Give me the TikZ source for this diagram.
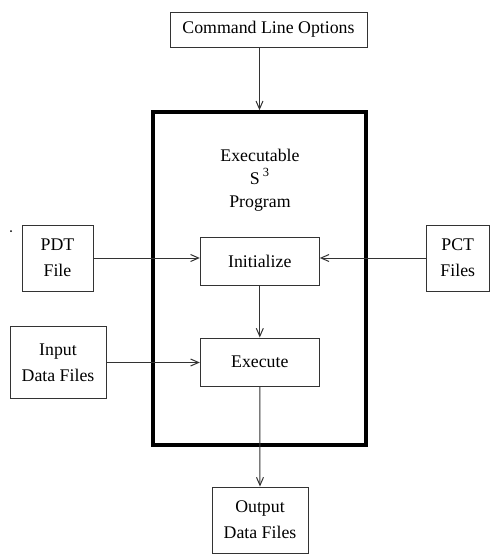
\documentclass[tikz,border=0pt]{standalone}
\usepackage{fontspec}
\setmainfont{Liberation Serif}
\usetikzlibrary{arrows.meta}
\tikzset{
    unit/.style={draw=black!80, line width=0.5pt, inner sep=0pt, align=center,
        font=\fontsize{8.9}{13}\selectfont},
    flow/.style={draw=black!80, line width=0.5pt, -{Straight Barb[length=4pt,width=3.5pt]}}
}

\begin{document}
\begin{tikzpicture}[x=0.5pt,y=-0.5pt]
\useasboundingbox (0,0) rectangle (490,558);
% executable program
\node[draw, line width=1.8pt, minimum width=106.5pt, minimum height=166.5pt] (prog) at (259.5,278.5) {};
\node[align=center, inner sep=0pt, font=\fontsize{8.9}{11.5}\selectfont] (title) at (260,180) {Executable\\S\,\textsuperscript{3}\\Program};
\node[unit, minimum width=59.5pt, minimum height=23.8pt] (init) at (259.8,261.5) {Initialize};
\node[unit, minimum width=59.5pt, minimum height=24pt] (exec) at (259.8,362) {Execute};
% inputs and outputs
\node[unit, minimum width=98.5pt, minimum height=17.5pt] (opts) at (268.5,29.5) {Command Line Options};
\node[unit, minimum width=35.5pt, minimum height=33pt] (pdt) at (57.5,258) {PDT\\File};
\node[unit, minimum width=31.7pt, minimum height=33pt] (pct) at (457.8,258) {PCT\\Files};
\node[unit, minimum width=48pt, minimum height=35.75pt] (inp) at (58,362.5) {Input\\Data Files};
\node[unit, minimum width=48pt, minimum height=33pt] (out) at (260,520) {Output\\Data Files};
\fill (11,231) circle (0.5pt);
% connectors
\draw[flow] (prog.north |- opts.south) -- (prog.north);
\draw[flow] (pdt.east) -- (pdt.east -| init.west);
\draw[flow] (pct.west) -- (pct.west -| init.east);
\draw[flow] (init.south) -- (exec.north);
\draw[flow] (inp.east) -- (inp.east -| exec.west);
\draw[flow] (exec.south) -- (out.north);
\end{tikzpicture}
\end{document}
